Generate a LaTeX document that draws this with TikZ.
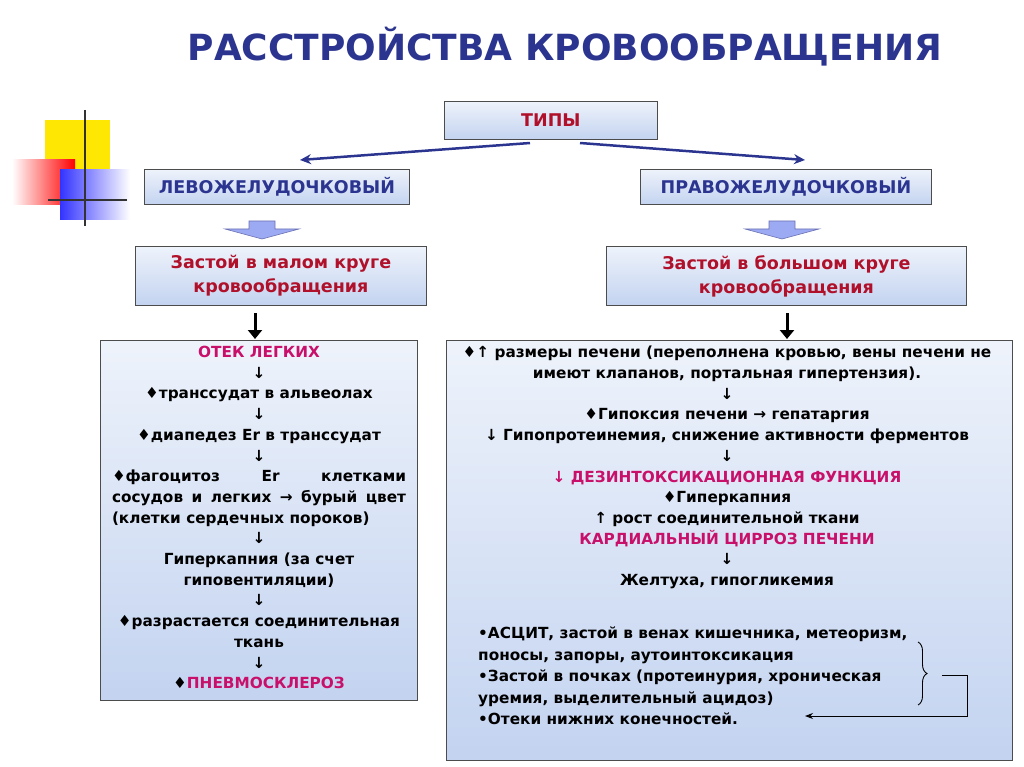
\documentclass[tikz,border=0pt]{standalone}
\usepackage{fontspec}
\setmainfont{DejaVu Sans}
\usetikzlibrary{arrows.meta,decorations.pathreplacing}
\definecolor{dblue}{HTML}{2B3590}
\definecolor{dred}{HTML}{B0102A}
\definecolor{mag}{HTML}{C8106A}
\definecolor{boxb}{HTML}{C3D3F0}
\definecolor{boxt}{HTML}{EEF3FB}
\tikzset{
 box/.style={draw=black!70,line width=0.8pt,top color=boxt,bottom color=boxb,inner sep=0},
 txt/.style={font=\bfseries\fontsize{15.3}{20.7}\selectfont,inner sep=0,align=center},
 head/.style={font=\bfseries\fontsize{17.5}{24}\selectfont,inner sep=0,align=center},
 fat/.style={draw=dblue!70,fill=boxb!80!blue,line width=0.6pt},
}
\begin{document}
\begin{tikzpicture}[x=1pt,y=-1pt]
\useasboundingbox (0,0) rectangle (1024,767);
% decoration
\fill[yellow!90!orange] (45,120) rectangle (110,190);
\shade[left color=white, right color=red] (12,160) rectangle (75,205);
\shade[left color=blue!80, right color=white] (60,170) rectangle (130,220);
\draw[line width=1.5pt,black!80] (85,110) -- (85,226) (48,200) -- (127,200);
% title
\node[font=\bfseries\fontsize{36}{40}\selectfont,text=dblue] (title) at (565,47) {РАССТРОЙСТВА КРОВООБРАЩЕНИЯ};
% types
\node[box,minimum width=213,minimum height=38,anchor=north west] (types) at (444,101) {};
\node[head,text=dred] at (types) {ТИПЫ};
\node[box,minimum width=265,minimum height=35,anchor=north west] (lv) at (144,169) {};
\node[head,text=dblue] at (lv) {ЛЕВОЖЕЛУДОЧКОВЫЙ};
\node[box,minimum width=291,minimum height=35,anchor=north west] (rv) at (640,169) {};
\node[head,text=dblue] at (rv) {ПРАВОЖЕЛУДОЧКОВЫЙ};
\coordinate (tl) at (530,143); \coordinate (tr) at (580,143);
\coordinate (al) at (300,160); \coordinate (ar) at (805,160);
\draw[dblue,line width=2.5pt,-{Stealth[length=11pt,width=10pt]}] (tl) -- (al);
\draw[dblue,line width=2.5pt,-{Stealth[length=11pt,width=10pt]}] (tr) -- (ar);
% fat arrows
\draw[fat] (249,221) -- (275,221) -- (275,229) -- (299,229) -- (262,239) -- (225,229) -- (249,229) -- cycle;
\draw[fat] (769,221) -- (795,221) -- (795,229) -- (819,229) -- (782,239) -- (745,229) -- (769,229) -- cycle;
% stasis boxes
\node[box,minimum width=291,minimum height=59,anchor=north west] (sl) at (135,246) {};
\node[head,text=dred] at (sl) {Застой в малом круге\\кровообращения};
\node[box,minimum width=360,minimum height=59,anchor=north west] (sr) at (606,246) {};
\node[head,text=dred] at (sr) {Застой в большом круге\\кровообращения};
% big boxes
\node[box,minimum width=317,minimum height=360,anchor=north west] (bl) at (100,340) {};
\node[box,minimum width=566,minimum height=420,anchor=north west] (br) at (446,340) {};
\draw[line width=3pt,-{Triangle[length=9pt,width=14pt]}] (255,313) -- (255,339);
\draw[line width=3pt,-{Triangle[length=9pt,width=14pt]}] (787,313) -- (787,339);
% left content
\node[txt,anchor=north] (lt) at (259,346) {%
\textcolor{mag}{ОТЕК ЛЕГКИХ}\\ ↓\\ ♦транссудат в альвеолах\\ ↓\\ ♦диапедез Er в транссудат\\ ↓\\
\makebox[294pt][s]{♦фагоцитоз\hfill Er\hfill клетками}\\
\makebox[294pt][s]{сосудов\hfill и\hfill легких\hfill →\hfill бурый\hfill цвет}\\
\makebox[294pt][l]{(клетки сердечных пороков)}\\ ↓\\
Гиперкапния (за счет\\ гиповентиляции)\\ ↓\\ ♦разрастается соединительная\\ ткань\\ ↓\\ ♦\textcolor{mag}{ПНЕВМОСКЛЕРОЗ}};
% right content
\node[txt,anchor=north] (rt) at (727,346) {%
♦↑ размеры печени (переполнена кровью, вены печени не\\
имеют клапанов, портальная гипертензия).\\ ↓\\
♦Гипоксия печени → гепатаргия\\
↓ Гипопротеинемия, снижение активности ферментов\\ ↓\\
\textcolor{mag}{↓ ДЕЗИНТОКСИКАЦИОННАЯ ФУНКЦИЯ}\\
♦Гиперкапния\\ ↑ рост соединительной ткани\\
\textcolor{mag}{КАРДИАЛЬНЫЙ ЦИРРОЗ ПЕЧЕНИ}\\ ↓\\ Желтуха, гипогликемия};
\node[txt,anchor=north west,align=left,font=\bfseries\fontsize{15.3}{21.5}\selectfont] (rb) at (478,627) {%
•АСЦИТ, застой в венах кишечника, метеоризм,\\
поносы, запоры, аутоинтоксикация\\
•Застой в почках (протеинурия, хроническая\\
уремия, выделительный ацидоз)\\
•Отеки нижних конечностей.};
\draw[decorate,decoration={brace,amplitude=9pt},line width=0.9pt] (918,642) -- (918,705);
\coordinate (b1) at (942,675); \coordinate (b2) at (967,675); \coordinate (b3) at (967,716); \coordinate (b4) at (805,716);
\draw[line width=1pt,-{Stealth[length=8pt,width=6pt]}] (b1) -- (b2) -- (b3) -- (b4);
\end{tikzpicture}
\end{document}
